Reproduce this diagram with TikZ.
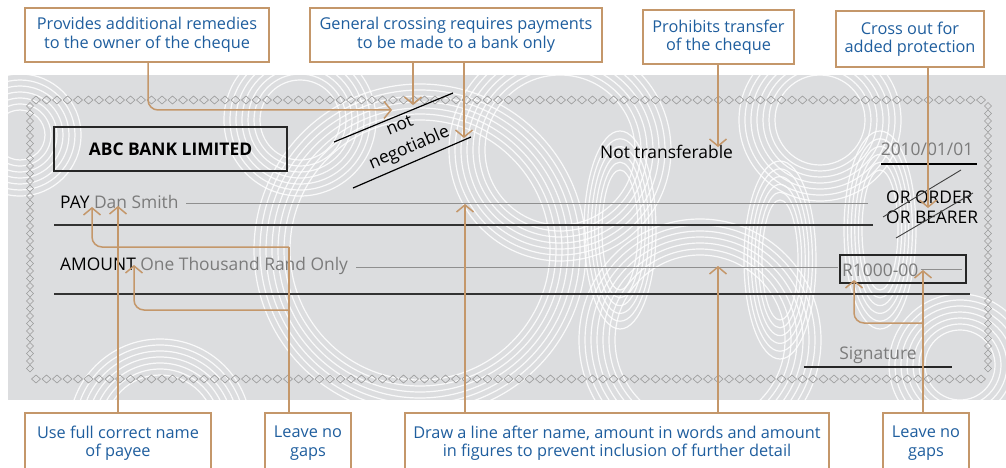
\documentclass[tikz,border=0pt]{standalone}
\usepackage{fontspec}
\setmainfont{Open Sans}
\usetikzlibrary{arrows.meta,calc}
\definecolor{tan}{HTML}{C4976A}
\definecolor{cblue}{HTML}{1F5E9E}
\definecolor{bgc}{HTML}{DCDDDF}
\definecolor{tgray}{HTML}{7B7B7B}
\definecolor{dgray}{HTML}{9A9A9A}
\begin{document}
\begin{tikzpicture}[x=1pt,y=-1pt,
  callout/.style={draw=tan,line width=1.6pt,fill=white,text=cblue,align=center,
    font=\fontsize{16.3}{18.5}\selectfont,inner sep=0pt},
  conn/.style={draw=tan,line width=1.5pt,-{Straight Barb[length=7pt,width=17pt,line width=1.5pt]}},
  link/.style={draw=tan,line width=1.5pt},
  chq/.style={font=\fontsize{17.4}{20}\selectfont,inner sep=0pt},
  thinl/.style={draw=tgray!85,line width=1pt},
  thickl/.style={draw=black!80,line width=2pt},
  dmd/.style={draw=dgray,line width=0.6pt},
  swirl/.style={draw=white,line width=1.2pt,opacity=0.85}]
\useasboundingbox (0,0) rectangle (1006,468);
% cheque background
\fill[bgc] (8,75) rectangle (1006,400);
\begin{scope}
  \clip (8,75) rectangle (1006,400);
  \foreach \cx/\cy/\ra in {20/135/25, 160/430/55, 420/250/130, 560/150/75, 700/340/85, 300/120/40, 960/365/35, 820/120/45}{
    \foreach \r in {0,6,...,36}{
      \draw[swirl] (\cx,\cy) circle[radius=\ra+\r];
    }
  }
  \foreach \cx/\cy in {620/230, 780/260, 880/230}{
    \foreach \r in {0,6,...,30}{
      \draw[swirl] (\cx,\cy) ellipse[x radius=18+\r*0.6, y radius=60+\r*1.3];
    }
  }
\end{scope}
% diamond border
\foreach \x in {36,46.5,...,984}{
  \draw[dmd] (\x,100) ++(-4.5,0) -- ++(4.5,-4) -- ++(4.5,4) -- ++(-4.5,4) -- cycle;
  \draw[dmd] (\x,379) ++(-4.5,0) -- ++(4.5,-4) -- ++(4.5,4) -- ++(-4.5,4) -- cycle;
}
\foreach \y in {106,113.5,...,374}{
  \draw[dmd] (30,\y) ++(-3.5,0) -- ++(3.5,-3.5) -- ++(3.5,3.5) -- ++(-3.5,3.5) -- cycle;
  \draw[dmd] (988,\y) ++(-3.5,0) -- ++(3.5,-3.5) -- ++(3.5,3.5) -- ++(-3.5,3.5) -- cycle;
}
% cheque content
\node[draw=black!85,line width=2pt,minimum width=233pt,minimum height=44pt,inner sep=0pt,
  font=\bfseries\fontsize{17.4}{20}\selectfont] (bank) at (170.5,149) {ABC BANK LIMITED};
\draw[black,line width=1.2pt] (334,142) -- (453,93);
\draw[black,line width=1.2pt] (353,188) -- (471,137);
\node[inner sep=0pt,rotate=23,align=center,font=\fontsize{17.4}{24}\selectfont] (neg) at (405,138) {not\\negotiable};
\node[chq,anchor=base west] (nt) at (600,158) {Not transferable};
\node[chq,anchor=base,text=tgray] (date) at (927,155) {2010/01/01};
\draw[black,line width=1.6pt] (881,164) -- (977,164);
\node[chq,anchor=base west] (pay) at (60,208) {PAY \textcolor{tgray}{Dan Smith}};
\draw[thinl] (186,203) -- (868,203);
\draw[thickl] (54,225) -- (873,225);
\node[chq,anchor=base west] (ord) at (886,203) {OR ORDER};
\node[chq,anchor=base west] (bear) at (886,223) {OR BEARER};
\draw[black!75,line width=0.9pt] (883,217) -- (961,170);
\draw[black!75,line width=0.9pt] (896,238) -- (973,193);
\node[chq,anchor=base west] (amt) at (60,270) {AMOUNT \textcolor{tgray}{One Thousand Rand Only}};
\draw[thinl] (356,267) -- (838,267);
\node[draw=black!85,line width=1.6pt,minimum width=126pt,minimum height=28pt,inner sep=0pt] (fig) at (903,269) {};
\node[chq,anchor=base west,text=tgray] (rand) at (842,276) {R1000-00};
\draw[thinl] (921,269) -- (962,269);
\draw[thickl] (54,294) -- (970,294);
\node[chq,anchor=base,text=tgray] (sig) at (878,359) {Signature};
\draw[black!85,line width=1.6pt] (804,367) -- (952,367);
% callouts
\node[callout,minimum width=244pt,minimum height=54pt] (c1) at (147,35) {Provides additional remedies\\to the owner of the cheque};
\node[callout,minimum width=292pt,minimum height=54pt] (c2) at (456,35) {General crossing requires payments\\to be made to a bank only};
\node[callout,minimum width=151pt,minimum height=54pt] (c3) at (718.5,37) {Prohibits transfer\\of the cheque};
\node[callout,minimum width=148pt,minimum height=56pt] (c4) at (910,39) {Cross out for\\added protection};
\node[callout,minimum width=186pt,minimum height=60pt] (c5) at (118,443) {Use full correct name\\of payee};
\node[callout,minimum width=86pt,minimum height=60pt] (c6) at (308,443) {Leave no\\gaps};
\node[callout,minimum width=424pt,minimum height=60pt] (c7) at (617,443) {Draw a line after name, amount in words and amount\\in figures to prevent inclusion of further detail};
\node[callout,minimum width=86pt,minimum height=60pt] (c8) at (926,443) {Leave no\\gaps};
% connector targets
\coordinate (t1) at (392,110);
\coordinate (t2a) at (413,105);
\coordinate (t2b) at (464,138);
\coordinate (t3) at (718,147);
\coordinate (t4) at (928,208);
\coordinate (t5) at (118,206);
\coordinate (j6a) at (289,247);
\coordinate (t6a) at (92,207);
\coordinate (j6b) at (289,310);
\coordinate (t6b) at (134,265);
\coordinate (t7a) at (465,204);
\coordinate (t7b) at (718,266);
\coordinate (t8a) at (923,270);
\coordinate (j8) at (923,323);
\coordinate (t8b) at (854,280);
% connectors
\draw[conn,rounded corners=10pt] ([xshift=1pt]c1.south) |- (t1);
\draw[conn] ([xshift=-43pt]c2.south) -- (t2a);
\draw[conn] ([xshift=8pt]c2.south) -- (t2b);
\draw[conn] ([xshift=-0.5pt]c3.south) -- (t3);
\draw[conn] ([xshift=18pt]c4.south) -- (t4);
\draw[conn] (c5.north) -- (t5);
\draw[link] ([xshift=-19pt]c6.north) -- (j6a);
\draw[conn,rounded corners=10pt] (j6a) -| (t6a);
\draw[conn,rounded corners=10pt] (j6b) -| (t6b);
\draw[conn] ([xshift=-152pt]c7.north) -- (t7a);
\draw[conn] ([xshift=101pt]c7.north) -- (t7b);
\draw[conn] ([xshift=-3pt]c8.north) -- (t8a);
\draw[conn,rounded corners=10pt] (j8) -| (t8b);
\end{tikzpicture}
\end{document}
